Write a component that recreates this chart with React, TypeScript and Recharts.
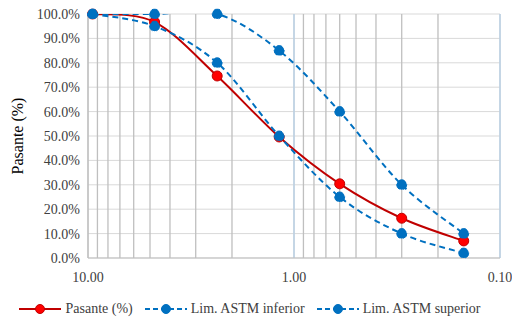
import { LineChart, Line, XAxis, YAxis, CartesianGrid, ReferenceLine, Legend } from "recharts"

// tamiz (mm) y porcentajes que pasan
const sieves = [9.5, 4.75, 2.36, 1.18, 0.6, 0.3, 0.15]
const pasante = [100, 96.7, 74.6, 49.6, 30.4, 16.3, 7.0]
const limInferior = [100, 95, 80, 50, 25, 10, 2]
const limSuperior = [100, 100, 100, 85, 60, 30, 10]

const xTicks = [10, 9, 8, 7, 6, 5, 4, 3, 2, 1, 0.9, 0.8, 0.7, 0.6, 0.5, 0.4, 0.3, 0.2, 0.1]
const xLabels = [10, 1, 0.1]
const yTicks = [0, 10, 20, 30, 40, 50, 60, 70, 80, 90, 100]

const data = sieves.map((s, i) => ({
  size: s,
  pasante: pasante[i],
  inf: limInferior[i],
  sup: limSuperior[i],
}))

const FONT = "'Times New Roman', Times, 'Liberation Serif', 'DejaVu Serif', serif"
const RED = "#C00000"
const BLUE = "#0070C0"

// Excel-like smoothing (Catmull-Rom as bezier segments)
function excelSmooth(context: any) {
  let pts: [number, number][] = []
  return {
    areaStart() {},
    areaEnd() {},
    lineStart() {
      pts = []
    },
    point(x: number, y: number) {
      pts.push([+x, +y])
    },
    lineEnd() {
      if (!pts.length) return
      context.moveTo(pts[0][0], pts[0][1])
      for (let i = 0; i < pts.length - 1; i++) {
        const p0 = pts[i - 1] || pts[i]
        const p1 = pts[i]
        const p2 = pts[i + 1]
        const p3 = pts[i + 2] || p2
        context.bezierCurveTo(
          p1[0] + (p2[0] - p0[0]) / 6,
          p1[1] + (p2[1] - p0[1]) / 6,
          p2[0] - (p3[0] - p1[0]) / 6,
          p2[1] - (p3[1] - p1[1]) / 6,
          p2[0],
          p2[1]
        )
      }
    },
  }
}

const legendItems = [
  { label: "Pasante (%)", color: RED, dot: "#FF0000", dash: undefined },
  { label: "Lim. ASTM inferior", color: BLUE, dot: BLUE, dash: "5 3" },
  { label: "Lim. ASTM superior", color: BLUE, dot: BLUE, dash: "5 3" },
]

function LegendContent() {
  return (
    <div style={{ display: "flex", justifyContent: "center", gap: 12, paddingTop: 13, fontFamily: FONT, fontSize: 14, color: "#404040" }}>
      {legendItems.map((it) => (
        <div key={it.label} style={{ display: "flex", alignItems: "center", gap: 4 }}>
          <svg width={42} height={12}>
            <line x1={0} y1={6} x2={42} y2={6} stroke={it.color} strokeWidth={2} strokeDasharray={it.dash} />
            <circle cx={21} cy={6} r={4.5} fill={it.dot} stroke={it.color} />
          </svg>
          <span>{it.label}</span>
        </div>
      ))}
    </div>
  )
}

export default function App() {
  return (
    <div style={{ position: "absolute", left: 0, top: 0, background: "#fff", fontFamily: FONT }}>
      <LineChart width={512} height={320} data={data} margin={{ top: 14, right: 12, bottom: 0, left: 0 }}>
        <CartesianGrid horizontal={true} vertical={false} stroke="#D9D9D9" />
        <CartesianGrid horizontal={false} vertical={true} stroke="#BFBFBF" strokeWidth={1.3} />
        <XAxis
          dataKey="size"
          type="number"
          scale="log"
          domain={[0.1, 10]}
          reversed
          ticks={xTicks}
          interval={0}
          tickLine={false}
          axisLine={{ stroke: "#BFBFBF" }}
          height={30}
          tick={{ fontFamily: FONT, fontSize: 14, fill: "#404040" }}
          tickFormatter={(v: number) => (xLabels.includes(v) ? v.toFixed(2) : "")}
          dy={6}
        />
        <YAxis
          type="number"
          domain={[0, 100]}
          allowDataOverflow
          ticks={yTicks}
          interval={0}
          width={88}
          tickLine={false}
          axisLine={{ stroke: "#BFBFBF" }}
          tick={{ fontFamily: FONT, fontSize: 14, fill: "#404040" }}
          tickFormatter={(v: number) => v.toFixed(1) + "%"}
          label={{ value: "Pasante (%)", angle: -90, position: "insideLeft", offset: 17, style: { fontFamily: FONT, fontSize: 16, fill: "#000", textAnchor: "middle" } }}
        />
        <ReferenceLine x={1} stroke="#BDD7EE" strokeWidth={1.3} />
        <ReferenceLine x={0.1} stroke="#BDD7EE" strokeWidth={1.3} />
        <Legend height={32} content={<LegendContent />} />
        <Line
          dataKey="pasante"
          name="Pasante (%)"
          type={excelSmooth as any}
          stroke={RED}
          strokeWidth={2}
          dot={{ r: 5, fill: "#FF0000", stroke: RED, strokeWidth: 1, clipDot: false }}
          isAnimationActive={false}
        />
        <Line
          dataKey="inf"
          name="Lim. ASTM inferior"
          type={excelSmooth as any}
          stroke={BLUE}
          strokeWidth={2}
          strokeDasharray="6 4"
          dot={{ r: 5, fill: BLUE, stroke: BLUE, strokeWidth: 1, clipDot: false }}
          isAnimationActive={false}
        />
        <Line
          dataKey="sup"
          name="Lim. ASTM superior"
          type={excelSmooth as any}
          stroke={BLUE}
          strokeWidth={2}
          strokeDasharray="6 4"
          dot={{ r: 5, fill: BLUE, stroke: BLUE, strokeWidth: 1, clipDot: false }}
          isAnimationActive={false}
        />
      </LineChart>
    </div>
  )
}
